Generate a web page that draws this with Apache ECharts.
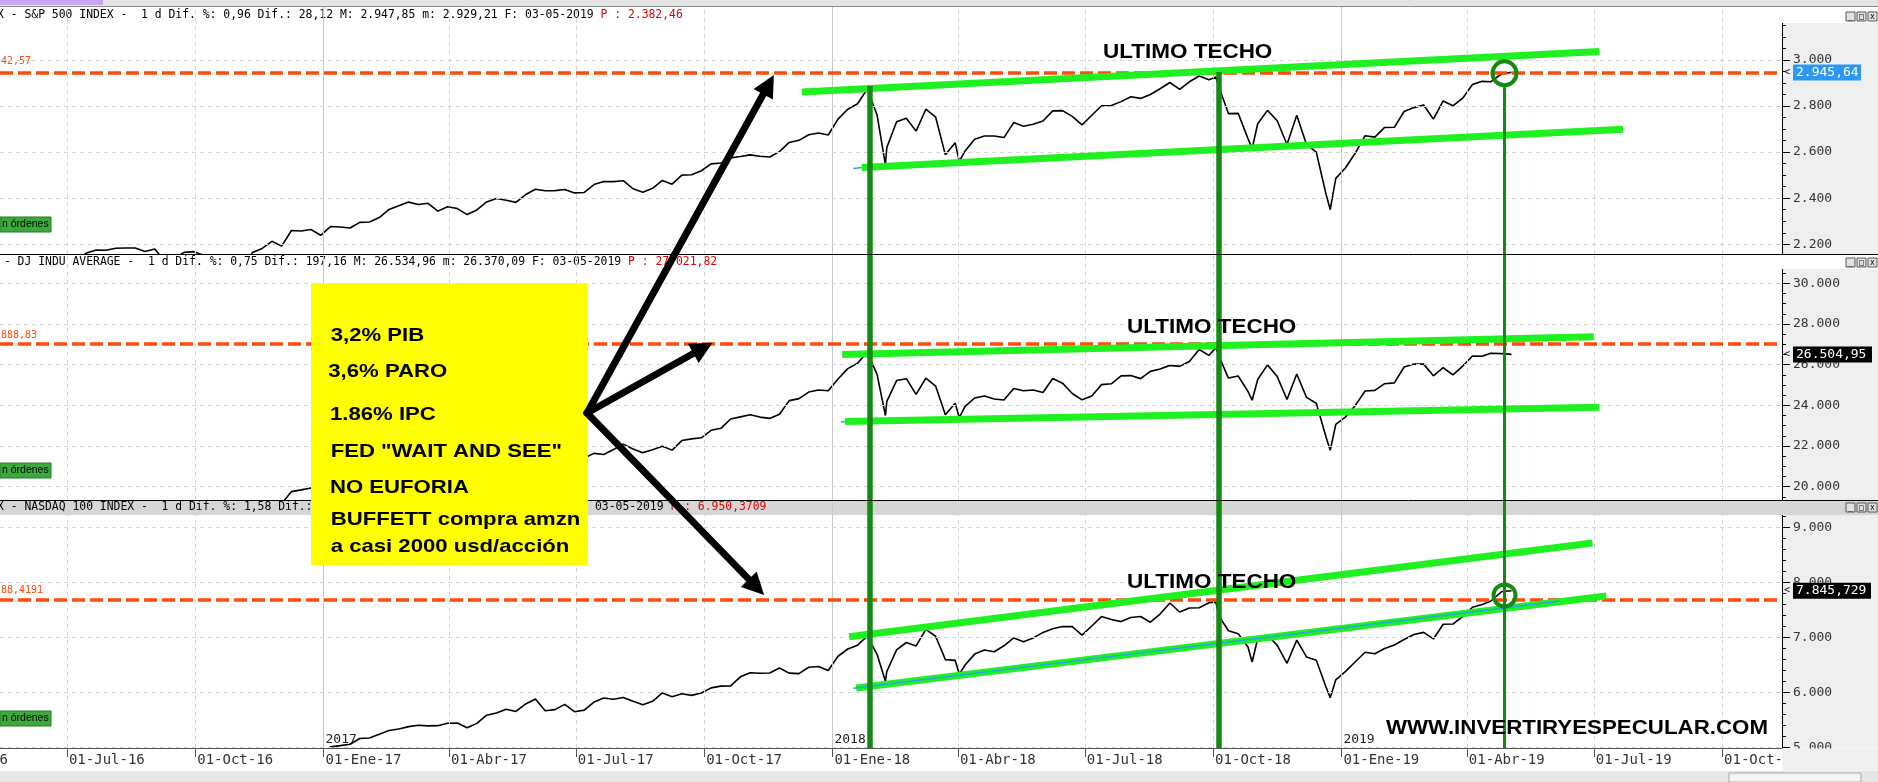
<!DOCTYPE html>
<html>
<head>
<meta charset="utf-8">
<title>S&P 500 - DJ INDU - NASDAQ 100</title>
<script src="https://cdn.jsdelivr.net/npm/echarts@6.0.0/dist/echarts.min.js"></script>
<style>
html, body { margin: 0; padding: 0; background: #fff; }
#chart { width: 1878px; height: 782px; }
</style>
</head>
<body>
<div id="chart"></div>
<script>
// cierres semanales (viernes) + algunos dias de giro
var dates16 = ['2016-05-13','2016-05-20','2016-05-27','2016-06-03','2016-06-10','2016-06-17','2016-06-24',
  '2016-07-01','2016-07-08','2016-07-15','2016-07-22','2016-07-29','2016-08-05','2016-08-12','2016-08-19','2016-08-26',
  '2016-09-02','2016-09-09','2016-09-16','2016-09-23','2016-09-30','2016-10-07','2016-10-14','2016-10-21','2016-10-28',
  '2016-11-04','2016-11-11','2016-11-18','2016-11-25','2016-12-02','2016-12-09','2016-12-16','2016-12-23','2016-12-30'];
var dates17 = ['2017-01-06','2017-01-13','2017-01-20','2017-01-27','2017-02-03','2017-02-10','2017-02-17','2017-02-24',
  '2017-03-03','2017-03-10','2017-03-17','2017-03-24','2017-03-31','2017-04-07','2017-04-14','2017-04-21','2017-04-28',
  '2017-05-05','2017-05-12','2017-05-19','2017-05-26','2017-06-02','2017-06-09','2017-06-16','2017-06-23','2017-06-30',
  '2017-07-07','2017-07-14','2017-07-21','2017-07-28','2017-08-04','2017-08-11','2017-08-18','2017-08-25',
  '2017-09-01','2017-09-08','2017-09-15','2017-09-22','2017-09-29','2017-10-06','2017-10-13','2017-10-20','2017-10-27',
  '2017-11-03','2017-11-10','2017-11-17','2017-11-24','2017-12-01','2017-12-08','2017-12-15','2017-12-22','2017-12-29'];
var dates18 = ['2018-01-05','2018-01-12','2018-01-19','2018-01-26','2018-02-02','2018-02-08','2018-02-09','2018-02-16','2018-02-23',
  '2018-03-02','2018-03-09','2018-03-16','2018-03-23','2018-03-30','2018-04-02','2018-04-06','2018-04-13','2018-04-20','2018-04-27',
  '2018-05-04','2018-05-11','2018-05-18','2018-05-25','2018-06-01','2018-06-08','2018-06-15','2018-06-22','2018-06-29',
  '2018-07-06','2018-07-13','2018-07-20','2018-07-27','2018-08-03','2018-08-10','2018-08-17','2018-08-24','2018-08-31',
  '2018-09-07','2018-09-14','2018-09-21','2018-09-28','2018-10-03','2018-10-05','2018-10-12','2018-10-19','2018-10-26','2018-10-29',
  '2018-11-02','2018-11-09','2018-11-16','2018-11-23','2018-11-30','2018-12-07','2018-12-14','2018-12-21','2018-12-24','2018-12-28'];
var dates19 = ['2019-01-04','2019-01-11','2019-01-18','2019-01-25','2019-02-01','2019-02-08','2019-02-15','2019-02-22',
  '2019-03-01','2019-03-08','2019-03-15','2019-03-22','2019-03-29','2019-04-05','2019-04-12','2019-04-18','2019-04-26','2019-05-03'];

var spx16 = [2047,2052,2099, 2099,2096,2071,2037, 2103,2130,2162,2175,2174, 2183,2184,2184,2169, 2180,2128,2139,2165,2168,
  2153,2133,2141,2126, 2085,2164,2182,2213, 2192,2260,2258,2264,2239];
var spx17 = [2277,2275,2271,2295, 2297,2316,2351,2367, 2383,2373,2378,2344,2363, 2355,2329,2349,2384, 2399,2391,2382,2416,
  2439,2432,2433,2438,2423, 2425,2459,2472,2472, 2476,2441,2426,2443, 2477,2461,2500,2502,2519, 2549,2553,2575,2581,
  2588,2582,2579,2602, 2642,2651,2675,2683,2674];
var spx18 = [2743,2786,2810,2873, 2762,2545,2620,2732,2747, 2691,2786,2752,2588,2641, 2560,2604,2656,2670,2670,
  2663,2728,2712,2721, 2735,2779,2780,2755,2718, 2760,2801,2802,2819, 2840,2833,2850,2875,2902, 2872,2905,2930,2914,
  2926,2885,2767,2768,2659,2615, 2723,2781,2736,2633,2760, 2633,2600,2417,2351,2486];
var spx19 = [2532,2596,2671,2665, 2707,2708,2776,2793, 2804,2743,2822,2801,2834, 2893,2907,2905,2940, 2946];

var dji16 = [17535,17501,17873, 17807,17865,17675,17400, 17949,18147,18516,18571,18432, 18543,18576,18552,18395,
  18492,18085,18124,18262,18308, 18240,18138,18146,18161, 17888,18848,18868,19152, 19171,19757,19843,19934,19763];
var dji17 = [19964,19886,19827,20094, 20071,20269,20624,20822, 21005,20903,20915,20597,20663, 20656,20453,20548,20941,
  21007,20897,20805,21080, 21206,21272,21384,21395,21350, 21414,21638,21580,21830, 22093,21858,21675,21814,
  21988,21798,22268,22350,22405, 22774,22871,23329,23434, 23539,23422,23358,23558, 24231,24329,24652,24754,24719];
var dji18 = [25296,25803,26072,26617, 25521,23500,24191,25219,25310, 24538,25336,24947,23533,24103,
  23400,23933,24360,24463,24311, 24263,24831,24715,24753, 24635,25317,25090,24581,24271, 24456,25019,25058,25451,
  25463,25313,25669,25790,25965, 25917,26155,26744,26458, 26828,26447,25340,25444,24688,24250,
  25271,25989,25413,24286,25538, 24389,24101,22445,21792,23062];
var dji19 = [23433,23996,24706,24737, 25064,25106,25883,26031, 26026,25450,25849,25502,25929, 26425,26412,26559,26543, 26505];

var ndx16 = [4336,4375,4510, 4497,4476,4393,4312, 4417,4520,4613,4647,4730, 4778,4798,4802,4782, 4815,4687,4799,4856,4875,
  4864,4843,4864,4797, 4695,4762,4792,4834, 4681,4833,4883,4927,4863];
var ndx17 = [5008,5030,5055,5159, 5168,5239,5304,5331, 5376,5400,5389,5393,5436, 5440,5354,5435,5584, 5624,5693,5652,5788,
  5877,5664,5685,5780,5647, 5675,5822,5896,5874, 5905,5835,5775,5835, 5989,5919,5972,5944,5987, 6080,6112,6116,6281,
  6356,6347,6350,6441, 6348,6340,6455,6470,6397];
var ndx18 = [6655,6787,6857,7022, 6690,6200,6378,6772,6905, 6843,7144,7019,6593,6581, 6330,6491,6694,6768,6737,
  6846,6988,6921,6988, 7089,7154,7197,7193,7040, 7205,7376,7325,7285, 7359,7377,7274,7422,7623, 7459,7533,7536,7627,
  7640,7395,7118,7066,6822,6550, 6978,7042,6853,6527,6949, 6642,6584,6096,5900,6227];
var ndx19 = [6380,6556,6727,6702, 6795,6860,6960,7050, 7089,6970,7237,7241,7378, 7546,7596,7655,7831, 7846];

// ejes
var qTicks = ['2016-07-01','2016-10-01','2017-01-01','2017-04-01','2017-07-01','2017-10-01','2018-01-01',
  '2018-04-01','2018-07-01','2018-10-01','2019-01-01','2019-04-01','2019-07-01','2019-10-01'];
var spxTicks = [2200, 2400, 2600, 2800, 3000];
var djiTicks = [20000, 22000, 24000, 26000, 28000, 30000];
var ndxTicks = [5000, 6000, 7000, 8000, 9000];

// niveles marcados
var techo = [2942.57, 27010, 7688.4191];
var ultimo = [2945.64, 26504.95, 7845.729];

var dates = dates16.concat(dates17, dates18, dates19);
var spx = spx16.concat(spx17, spx18, spx19);
var dji = dji16.concat(dji17, dji18, dji19);
var ndx = ndx16.concat(ndx17, ndx18, ndx19);

var MES = ['Ene','Feb','Mar','Abr','May','Jun','Jul','Ago','Sep','Oct','Nov','Dic'];
function t(s) { var p = s.split('-'); return new Date(+p[0], +p[1] - 1, +p[2]).getTime(); }
function miles(v) { return String(v).replace(/\B(?=(\d{3})+(?!\d))/g, '.'); }
function fecha(v) {
  var d = new Date(v), dd = d.getDate();
  return (dd < 10 ? '0' : '') + dd + '-' + MES[d.getMonth()] + '-' + String(d.getFullYear()).slice(2);
}

var MONO = '"DejaVu Sans Mono", monospace';
var BOLD = '"Liberation Sans", Arial, sans-serif';
var GREEN = '#1ff01f', DKGREEN = '#148a14', ORANGE = '#ff4a0a', BLUE = '#2aa4e8';
var X_MIN = t('2016-05-14'), X_MAX = t('2019-11-13');
var qTs = qTicks.map(t);

var panels = [
  { top: 7, height: 247.3, min: 2156.6, max: 3229.5, majors: spxTicks, step: 50, minorMax: 3150, data: spx },
  { top: 254.3, height: 245.7, min: 19346, max: 31426, majors: djiTicks, step: 500, minorMax: 30500, data: dji },
  { top: 500, height: 248, min: 4987, max: 9496, majors: ndxTicks, step: 200, minorMax: 9200, data: ndx }
];

function minors(p) {
  var out = [];
  for (var v = Math.ceil(p.min / p.step) * p.step; v <= p.minorMax; v += p.step) out.push(v);
  return out;
}
function vline(d, style) { return { xAxis: t(d), lineStyle: style }; }
function hline(v, style) { return { yAxis: v, lineStyle: style }; }
function seg(d1, v1, d2, v2, style) {
  return [{ coord: [t(d1), v1], lineStyle: style }, { coord: [t(d2), v2], lineStyle: style }];
}
function gridLines(p) {
  var out = [];
  qTicks.forEach(function (q) {
    var year = q.slice(5) === '01-01';
    out.push(vline(q, year ? { color: '#c6c6c6', type: 'solid', width: 1 } : { color: '#d4d4d4', type: [4, 4], width: 1 }));
  });
  p.majors.forEach(function (v) { out.push(hline(v, { color: '#d4d4d4', type: [4, 4], width: 1 })); });
  return out;
}

var trend = { color: GREEN, width: 7, type: 'solid' };
var thin = { color: BLUE, width: 1.5, type: 'solid' };
var dash = { color: ORANGE, width: 3.5, type: [13, 5] };
var vA = { color: DKGREEN, width: 5.5, type: 'solid' };
var vC = { color: DKGREEN, width: 3, type: 'solid' };

var notes = [
  [
    hline(techo[0], dash),
    seg('2017-12-10', 2861, '2019-07-05', 3036, trend),
    seg('2018-01-22', 2533, '2019-07-22', 2699, trend),
    seg('2018-01-16', 2529, '2018-01-22', 2533, thin),
    seg('2018-01-28', 2887, '2018-01-28', panels[0].min, vA),
    seg('2018-10-05', 2948, '2018-10-05', panels[0].min, vA),
    seg('2019-04-28', 2882, '2019-04-28', panels[0].min, vC)
  ],
  [
    hline(techo[1], dash),
    seg('2018-01-08', 26500, '2019-07-01', 27375, trend),
    seg('2018-01-10', 23200, '2019-07-05', 23908, trend),
    seg('2018-01-07', 23180, '2018-01-10', 23200, thin),
    vline('2018-01-28', vA), vline('2018-10-05', vA), vline('2019-04-28', vC)
  ],
  [
    hline(techo[2], dash),
    seg('2018-01-13', 7010, '2019-06-30', 8715, trend),
    seg('2018-01-18', 6078, '2019-07-10', 7751, trend),
    seg('2018-01-16', 6073, '2019-06-07', 7660, thin),
    vline('2018-01-28', vA), vline('2018-10-05', vA), vline('2019-04-28', vC)
  ]
];

var series = [];
panels.forEach(function (p, i) {
  series.push({
    type: 'line', xAxisIndex: i, yAxisIndex: i, data: [], z: 1, silent: true,
    markLine: { silent: true, symbol: 'none', label: { show: false }, emphasis: { disabled: true }, animation: false, data: gridLines(p) }
  });
  series.push({
    type: 'line', xAxisIndex: i, yAxisIndex: i, z: 3, silent: true, symbol: 'none', showSymbol: false,
    lineStyle: { color: '#000', width: 1.6 },
    data: dates.map(function (d, k) { return [t(d), p.data[k]]; })
  });
  series.push({
    type: 'line', xAxisIndex: i, yAxisIndex: i, data: [], z: 6, silent: true,
    markLine: { silent: true, symbol: 'none', label: { show: false }, emphasis: { disabled: true }, animation: false, data: notes[i] }
  });
});

var option = {
  animation: false,
  backgroundColor: '#fff',
  grid: panels.map(function (p) {
    return { left: 0, right: 96, top: p.top, height: p.height, containLabel: false, outerBoundsMode: 'none' };
  }),
  xAxis: panels.map(function (p, i) {
    return {
      type: 'value', gridIndex: i, min: X_MIN, max: X_MAX, z: 4,
      splitLine: { show: false },
      axisLine: { show: i === 2, onZero: false, lineStyle: { color: '#555', width: 1 } },
      axisTick: { show: i === 2, customValues: qTs, length: 9, lineStyle: { color: '#555' } },
      axisLabel: {
        show: i === 2, customValues: qTs, formatter: fecha, align: 'left', margin: 5, padding: [0, 0, 0, 2],
        fontFamily: MONO, fontSize: 14, color: '#333'
      }
    };
  }),
  yAxis: panels.map(function (p, i) {
    return {
      type: 'value', gridIndex: i, position: 'right', min: p.min, max: p.max, z: 4,
      splitLine: { show: false }, axisLine: { show: false },
      axisTick: { show: true, length: 8, customValues: p.majors, lineStyle: { color: '#000' } },
      axisLabel: { customValues: p.majors, formatter: miles, margin: 11, fontFamily: MONO, fontSize: 13, color: '#333' }
    };
  }).concat(panels.map(function (p, i) {
    return {
      type: 'value', gridIndex: i, position: 'right', min: p.min, max: p.max, z: 4,
      splitLine: { show: false }, axisLine: { show: false }, axisLabel: { show: false },
      axisTick: { show: true, length: 4, customValues: minors(p), lineStyle: { color: '#000' } }
    };
  })),
  series: series
};

var chart = echarts.init(document.getElementById('chart'), null, { renderer: 'canvas' });
chart.setOption(option);

function P(i, d, v) { return chart.convertToPixel({ gridIndex: i }, [t(d), v]); }

var g = [];
function rect(x, y, w, h, fill, z, stroke) {
  g.push({ type: 'rect', z: z, silent: true, shape: { x: x, y: y, width: w, height: h },
    style: { fill: fill, stroke: stroke || null, lineWidth: 1 } });
}
function line(x1, y1, x2, y2, color, w, z) {
  g.push({ type: 'line', z: z, silent: true, shape: { x1: x1, y1: y1, x2: x2, y2: y2 }, style: { stroke: color, lineWidth: w } });
}
function text(x, y, s, opt) {
  g.push({ type: 'text', z: opt.z || 3, silent: true, x: x, y: y, scaleX: opt.scaleX || 1,
    style: { text: s, fontFamily: opt.family || MONO, fontSize: opt.size || 11.4, fontWeight: opt.weight || 'normal',
      fill: opt.color || '#000', align: opt.align || 'left', verticalAlign: 'middle', rich: opt.rich } });
}

// ventana
rect(0, 0, 1878, 6, '#e4e4e4', 3);
rect(0, 0, 103, 5, '#c9a6f2', 3);
line(0, 6.5, 1878, 6.5, '#8a8a8a', 1, 3);
line(0, 254.5, 1878, 254.5, '#000', 1, 7);
line(0, 500.5, 1878, 500.5, '#000', 1, 7);
rect(0, 501, 1878, 14, '#d6d6d6', 2);

// zona del eje derecho
var boxTop = [23, 269, 515], boxBot = [254, 500, 748], btnY = [12, 258, 503];
for (var i = 0; i < 3; i++) {
  rect(1782.5, boxTop[i], 96, boxBot[i] - boxTop[i], '#efefef', 1);
  line(1782.5, boxTop[i], 1782.5, boxBot[i], '#000', 1, 4);
  [1846, 1857, 1868].forEach(function (bx, k) {
    rect(bx, btnY[i], 9, 9, '#e2e2e2', 3, '#555');
    text(bx + 4.5, btnY[i] + 4.5, ['_', '\u25a1', 'x'][k], { size: 8, align: 'center', z: 3 });
  });
}
rect(1782.5, 748.5, 96, 22, '#efefef', 8);
rect(0, 771, 1878, 11, '#e6e6e6', 8);
rect(1729, 773, 132, 9, '#f4f4f4', 8, '#a8a8a8');

// cabeceras
var rich = { k: { fill: '#000', fontFamily: MONO, fontSize: 11.4 }, r: { fill: '#e00000', fontFamily: MONO, fontSize: 11.4 } };
text(-3, 15.3, '{k|X - S&P 500 INDEX -  1 d Dif. %: 0,96 Dif.: 28,12 M: 2.947,85 m: 2.929,21 F: 03-05-2019 }{r|P : 2.382,46}', { rich: rich });
text(3.9, 261.7, '{k|- DJ INDU AVERAGE -  1 d Dif. %: 0,75 Dif.: 197,16 M: 26.534,96 m: 26.370,09 F: 03-05-2019 }{r|P : 27.021,82}', { rich: rich });
text(-3, 507.5, '{k|X - NASDAQ 100 INDEX -  1 d Dif. %: 1,58 Dif.: 113,58}', { rich: rich });
text(595, 507.5, '{k|03-05-2019 }{r|P : 6.950,3709}', { rich: rich });

// etiquetas naranjas
text(1, 61.7, '42,57', { size: 10, color: ORANGE });
text(1, 335, '888,83', { size: 10, color: ORANGE });
text(1, 590, '88,4191', { size: 10, color: ORANGE });

// botones verdes
[217, 463, 711].forEach(function (by) {
  rect(0, by, 51, 15, '#3aaa3a', 3, '#2a7a2a');
  text(2, by + 7.5, 'n \u00f3rdenes', { family: BOLD, size: 10.5 });
});

// años
['2017-01-01', '2018-01-01', '2019-01-01'].forEach(function (d) {
  text(P(2, d, 5000)[0] + 2, 740, d.slice(0, 4), { size: 13, color: '#222' });
});
text(P(2, '2016-04-01', 5000)[0] - 8, 760, fecha(t('2016-04-01')), { size: 14, color: '#333' });

// etiquetas de ultimo valor
var badgeFill = ['#2d97f5', '#000', '#000'], badgeW = [68, 79, 78];
for (var j = 0; j < 3; j++) {
  var by = P(j, '2019-05-03', ultimo[j])[1];
  var lab = j === 2 ? '7.845,729' : (j === 1 ? '26.504,95' : '2.945,64');
  rect(1793, by - 8, badgeW[j], 16, badgeFill[j], 10);
  text(1796, by, lab, { size: 13, color: '#fff', z: 11 });
  text(1784, by, '<', { size: 10, color: '#000', z: 11 });
}

// caja amarilla
rect(311, 283, 277, 282, '#ffff00', 10);
var caja = [['3,2% PIB', 330.7, 336], ['3,6% PARO', 328.3, 371.7], ['1.86% IPC', 330, 415], ['FED "WAIT AND SEE"', 330.7, 451.7],
  ['NO EUFORIA', 330, 488.3], ['BUFFETT compra amzn', 330.7, 520], ['a casi 2000 usd/acci\u00f3n', 330.7, 547.3]];
caja.forEach(function (c) {
  text(c[1], c[2], c[0], { family: BOLD, weight: 'bold', size: 18.6, scaleX: 1.19, z: 11 });
});

// flechas
function arrow(p0, p1) {
  var dx = p1[0] - p0[0], dy = p1[1] - p0[1], L = Math.sqrt(dx * dx + dy * dy), ux = dx / L, uy = dy / L;
  var head = 22, hw = 11, bx = p1[0] - ux * head, by = p1[1] - uy * head;
  g.push({ type: 'line', z: 12, silent: true, shape: { x1: p0[0], y1: p0[1], x2: bx + ux * 2, y2: by + uy * 2 },
    style: { stroke: '#000', lineWidth: 7, lineCap: 'round' } });
  g.push({ type: 'polygon', z: 12, silent: true,
    shape: { points: [[p1[0], p1[1]], [bx - uy * hw, by + ux * hw], [bx + uy * hw, by - ux * hw]] }, style: { fill: '#000' } });
}
var origen = P(1, '2017-07-09', 23623);
arrow(origen, P(0, '2017-11-20', 2934.5));
arrow(origen, P(1, '2017-10-07', 27080));
arrow(origen, P(2, '2017-11-13', 7769));

// circulos
[[0, 2941.9, 12], [2, 7760, 11]].forEach(function (c) {
  var cp = P(c[0], '2019-04-28', c[1]);
  g.push({ type: 'circle', z: 12, silent: true, shape: { cx: cp[0], cy: cp[1], r: c[2] },
    style: { fill: null, stroke: DKGREEN, lineWidth: 4 } });
});

// textos
[[1103, 52.3], [1127, 327.3], [1127, 582.3]].forEach(function (u) {
  text(u[0], u[1], 'ULTIMO TECHO', { family: BOLD, weight: 'bold', size: 21, scaleX: 1.07, z: 12 });
});
text(1386, 728, 'WWW.INVERTIRYESPECULAR.COM', { family: BOLD, weight: 'bold', size: 20, scaleX: 1.115, z: 12 });

chart.setOption({ graphic: { elements: g } });
</script>
</body>
</html>
